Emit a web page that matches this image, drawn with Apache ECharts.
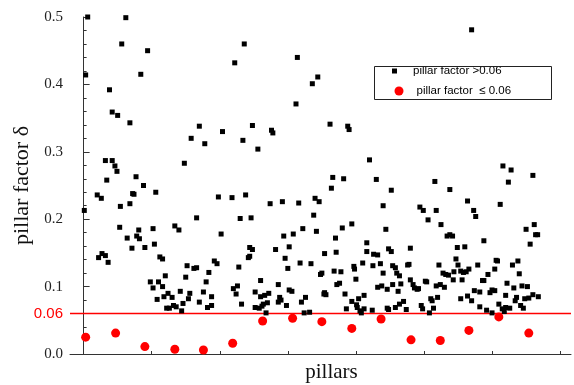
<!DOCTYPE html>
<html>
<head>
<meta charset="utf-8">
<script src="https://cdn.jsdelivr.net/npm/echarts@6/dist/echarts.min.js"></script>
<style>
  body { margin: 0; background: #fff; }
  #pillarChart { width: 574px; height: 385px; }
</style>
</head>
<body>
<div id="pillarChart"></div>
<script>
// pillar index, pillar factor
var above = [
  [3,0.5],[31,0.499],[1.5,0.414],[28,0.46],[47,0.45],[42,0.415],[19,0.392],[21,0.359],[25,0.354],[34,0.343],
  [85,0.338],[118,0.46],[111,0.432],[157,0.44],[172,0.411],[168,0.401],[156,0.371],[102,0.33],[124,0.339],[138,0.332],
  [139,0.328],[181,0.341],[194,0.338],[195,0.333],[285,0.481],[79,0.32],[16,0.287],[21,0.287],[23,0.279],[24.5,0.271],
  [74,0.283],[17,0.258],[38.5,0.263],[44,0.25],[10,0.236],[13,0.231],[36,0.238],[37,0.237],[53,0.24],[34,0.223],
  [27,0.219],[0.5,0.213],[83,0.202],[26.5,0.188],[32,0.172],[39,0.175],[41,0.171],[40.5,0.184],[51,0.186],[67,0.19],
  [70,0.184],[35.5,0.157],[45,0.158],[52,0.163],[89,0.312],[117,0.317],[128,0.304],[210,0.288],[183,0.262],[191,0.26],
  [215,0.259],[182,0.246],[226,0.243],[99,0.233],[109,0.232],[119,0.236],[137,0.223],[146,0.226],[158,0.224],[170,0.231],
  [173,0.226],[220,0.22],[115,0.201],[123,0.202],[169,0.206],[101,0.178],[161,0.186],[154,0.178],[147,0.175],[171,0.182],
  [190,0.187],[197,0.193],[185,0.172],[222,0.185],[208,0.165],[122,0.158],[124,0.155],[141,0.155],[151,0.159],[224,0.156],
  [308,0.279],[314,0.273],[330,0.265],[312,0.255],[258,0.256],[269,0.244],[282,0.227],[306,0.222],[247,0.218],[249.5,0.213],
  [259,0.213],[286.5,0.213],[288,0.204],[253,0.199],[262.5,0.192],[325,0.185],[331,0.192],[332,0.177],[333.5,0.177],[267,0.175],
  [269,0.177],[271,0.175],[294,0.168],[328,0.163],[274.5,0.158],[280,0.159],[240,0.157],[11,0.143],[13.5,0.149],[16,0.146],
  [18,0.136],[56,0.144],[58,0.141],[76,0.131],[81,0.127],[83,0.128],[75,0.114],[60,0.116],[49,0.107],[55,0.107],
  [51,0.098],[58,0.1],[59,0.085],[62,0.09],[65,0.084],[71,0.093],[78,0.09],[77,0.082],[73,0.075],[54,0.081],
  [61,0.068],[63,0.068],[66,0.072],[68,0.07],[72,0.064],[85,0.077],[96,0.138],[98,0.134],[121,0.143],[122,0.145],
  [114,0.129],[92,0.121],[90,0.107],[88,0.092],[94,0.085],[91,0.069],[94,0.072],[148,0.142],[150,0.127],[130,0.109],
  [143,0.103],[110,0.097],[113,0.101],[112,0.089],[116,0.074],[126,0.092],[130,0.085],[133,0.087],[136,0.09],[132,0.074],
  [135,0.076],[126,0.069],[129,0.068],[131,0.071],[134,0.061],[144,0.084],[145,0.08],[143,0.077],[149,0.072],[151,0.095],
  [153,0.093],[159,0.135],[167,0.134],[177,0.149],[185.5,0.151],[174,0.118],[175,0.12],[184,0.123],[189,0.122],[188,0.105],
  [186,0.103],[160,0.077],[163,0.084],[162,0.061],[166,0.062],[177,0.091],[178,0.088],[176.5,0.089],[192,0.089],[197,0.078],
  [200.5,0.073],[201,0.069],[193,0.067],[199,0.126],[198.5,0.13],[200,0.111],[205,0.135],[208,0.152],[213,0.148],[216,0.147],
  [212.5,0.131],[218,0.134],[220,0.12],[227,0.131],[229,0.128],[226,0.152],[206,0.087],[202,0.082],[216,0.099],[219,0.101],
  [223,0.096],[227,0.103],[230,0.12],[203,0.064],[204,0.061],[206,0.067],[212,0.065],[223,0.068],[224,0.066],[229,0.069],
  [232,0.074],[232,0.116],[233,0.104],[231,0.093],[238,0.132],[239,0.133],[240,0.11],[242,0.103],[243,0.098],[245,0.096],
  [246,0.097],[251,0.108],[252,0.107],[259,0.101],[262,0.103],[265,0.099],[261,0.132],[264,0.12],[266,0.118],[268,0.117],
  [272,0.122],[271.5,0.11],[273.5,0.141],[275,0.132],[277,0.123],[279,0.121],[281,0.122],[283,0.126],[289.5,0.132],[278,0.11],
  [255,0.082],[256,0.079],[260,0.084],[248,0.072],[249,0.067],[257,0.068],[254,0.061],[235,0.078],[237,0.066],[277,0.082],
  [282,0.086],[285,0.079],[287,0.094],[291,0.092],[293,0.109],[294,0.109],[297,0.118],[302,0.126],[303,0.139],[304,0.138],
  [298.5,0.091],[300,0.095],[302,0.094],[291,0.07],[296,0.065],[300,0.061],[305,0.074],[307.5,0.067],[309,0.063],[310,0.069],
  [313,0.068],[310,0.087],[311,0.105],[315,0.132],[319,0.138],[320,0.119],[316,0.098],[322,0.101],[326,0.1],[318,0.084],
  [317,0.079],[324,0.082],[327,0.083],[330,0.088],[334,0.085],[321,0.072],[323,0.068]
];

var below = [
  [1.5,0.025],[23.5,0.031],[45,0.011],[67,0.007],[88,0.006],[109.5,0.016],[131.5,0.049],[153.5,0.053],
  [175,0.048],[197,0.038],[218.5,0.052],[240.5,0.021],[262,0.02],[283,0.035],[305,0.055],[327,0.031]
];

var threshold = 0.06;
var xMin = -10, xMax = 358;
var xTicks = [0, 50, 100, 150, 200, 250, 300, 350];
var nameAbove = 'pillar factor >0.06';
var nameBelow = 'pillar factor  \u2264 0.06';

var chart = echarts.init(document.getElementById('pillarChart'));

var option = {
  animation: false,
  backgroundColor: '#fff',
  grid: { left: 70, right: 3, top: 17, bottom: 31, containLabel: false, outerBoundsMode: 'none' },
  legend: [
    {
      left: 392, top: 64, padding: 0,
      itemWidth: 5, itemHeight: 5,
      selectedMode: false,
      textStyle: { fontFamily: 'Liberation Sans', fontSize: 11.5, color: '#000', lineHeight: 14, padding: [0, 0, 0, 11] },
      data: [{ name: nameAbove, icon: 'rect' }]
    },
    {
      left: 394.5, top: 84, padding: 0,
      itemWidth: 9, itemHeight: 9,
      selectedMode: false,
      textStyle: { fontFamily: 'Liberation Sans', fontSize: 11.5, color: '#000', lineHeight: 14, padding: [0, 0, 0, 8] },
      data: [{ name: nameBelow, icon: 'circle' }]
    }
  ],
  graphic: [
    {
      type: 'rect',
      left: 372, top: 64,
      shape: { width: 177, height: 33 },
      style: { fill: 'none', stroke: '#222', lineWidth: 1 },
      z: 10
    }
  ],
  xAxis: {
    type: 'value',
    min: xMin,
    max: xMax,
    name: 'pillars',
    nameLocation: 'middle',
    nameGap: 8,
    nameTextStyle: { fontFamily: 'Liberation Serif', fontSize: 21, color: '#111', padding: [0, 0, 0, 22] },
    axisLine: { show: true, lineStyle: { color: '#333', width: 1 } },
    axisTick: { show: true, inside: true, length: 3, customValues: xTicks, lineStyle: { color: '#333' } },
    axisLabel: { show: false },
    splitLine: { show: false }
  },
  yAxis: {
    type: 'value',
    min: 0,
    max: 0.5,
    interval: 0.1,
    name: 'pillar factor \u03b4',
    nameLocation: 'middle',
    nameGap: 37,
    nameTextStyle: { fontFamily: 'Liberation Serif', fontSize: 22, color: '#111' },
    axisLine: { show: true, lineStyle: { color: '#333', width: 1 } },
    axisTick: { show: true, inside: true, length: 6, lineStyle: { color: '#333' } },
    minorTick: { show: true, splitNumber: 5, length: 3, lineStyle: { color: '#333' } },
    axisLabel: {
      fontFamily: 'Liberation Serif', fontSize: 15, color: '#222', margin: 7,
      formatter: function (v) { return v.toFixed(1); }
    },
    splitLine: { show: false }
  },
  series: [
    {
      // threshold line, labelled on the left
      name: 'threshold',
      type: 'line',
      silent: true,
      symbol: 'circle',
      symbolSize: 0,
      showSymbol: true,
      color: '#ff0000',
      lineStyle: { color: '#ff0000', width: 1.6, opacity: 1 },
      itemStyle: { color: '#ff0000' },
      z: 1,
      data: [
        {
          value: [xMin, threshold],
          label: {
            show: true,
            position: 'left',
            distance: 7,
            formatter: '0.06',
            color: '#ff0000',
            fontFamily: 'Liberation Sans',
            fontSize: 15
          }
        },
        [xMax, threshold]
      ]
    },
    {
      name: nameAbove,
      type: 'scatter',
      symbol: 'rect',
      symbolSize: 5,
      itemStyle: { color: '#000', opacity: 1 },
      z: 3,
      data: above
    },
    {
      name: nameBelow,
      type: 'scatter',
      symbol: 'circle',
      symbolSize: 9,
      itemStyle: { color: '#ff0000', opacity: 1 },
      z: 3,
      data: below
    }
  ]
};

chart.setOption(option);
</script>
</body>
</html>
